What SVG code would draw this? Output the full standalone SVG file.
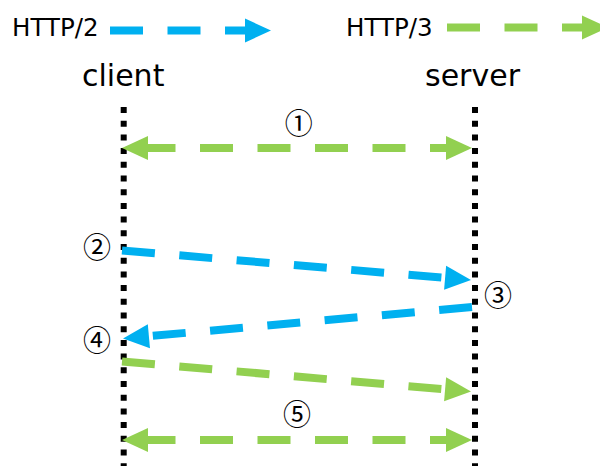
<svg xmlns="http://www.w3.org/2000/svg" width="600" height="466" viewBox="0 0 600 466">
  <style>
    .label { font-family: "DejaVu Sans", Verdana, sans-serif; fill: #000; }
    .legend { font-size: 24.5px; }
    .actor { font-size: 30px; }
    .step { font-family: "Noto Sans CJK JP", "DejaVu Sans", sans-serif; font-size: 28px; text-anchor: middle; fill: #000; }
    .lifeline { stroke: #000; stroke-width: 6; stroke-dasharray: 6 7.7; fill: none; }
    .msg { fill: none; stroke-width: 8; stroke-dasharray: 33 24.5; }
    .h2 { stroke: #00B0F0; }
    .h3 { stroke: #92D050; }
  </style>
  <defs>
    <marker id="headBlue" markerUnits="userSpaceOnUse" markerWidth="26" markerHeight="26" refX="0" refY="12" orient="auto-start-reverse" overflow="visible">
      <path d="M-1,0 L25,12 L-1,24 Z" fill="#00B0F0"/>
    </marker>
    <marker id="headGreen" markerUnits="userSpaceOnUse" markerWidth="26" markerHeight="26" refX="0" refY="12" orient="auto-start-reverse" overflow="visible">
      <path d="M-1,0 L25,12 L-1,24 Z" fill="#92D050"/>
    </marker>
  </defs>

  <!-- legend -->
  <g id="legend-http2">
    <text class="label legend" x="12" y="36">HTTP/2</text>
    <path class="msg h2" d="M110,30.5 L246,30.5" stroke-dasharray="33 24" marker-end="url(#headBlue)"/>
  </g>
  <g id="legend-http3">
    <text class="label legend" x="346" y="36">HTTP/3</text>
    <path class="msg h3" d="M447,27.5 L583,27.5" stroke-dasharray="33 24" marker-end="url(#headGreen)"/>
  </g>

  <!-- participants -->
  <g id="client">
    <text class="label actor" x="82" y="86">client</text>
    <line class="lifeline" x1="123.7" y1="107" x2="123.7" y2="466"/>
  </g>
  <g id="server">
    <text class="label actor" x="425" y="86">server</text>
    <line class="lifeline" x1="475" y1="107" x2="475" y2="466"/>
  </g>

  <!-- messages -->
  <g id="connectors">
    <path class="msg h3" d="M147,148 L447,148" stroke-dashoffset="4.5" marker-start="url(#headGreen)" marker-end="url(#headGreen)"/>
    <path class="msg h2" d="M122,250.5 L446.1,277.9" marker-end="url(#headBlue)"/>
    <path class="msg h2" d="M472,307 L147.9,336.3" marker-end="url(#headBlue)"/>
    <path class="msg h3" d="M122,361.5 L446.1,389.4" marker-end="url(#headGreen)"/>
    <path class="msg h3" d="M147,440 L447,440" stroke-dashoffset="4.5" marker-start="url(#headGreen)" marker-end="url(#headGreen)"/>
  </g>

  <!-- step numbers -->
  <g id="steps">
    <text class="step" x="298.7" y="134">①</text>
    <text class="step" x="97" y="258">②</text>
    <text class="step" x="498" y="306">③</text>
    <text class="step" x="97" y="351">④</text>
    <text class="step" x="297" y="425">⑤</text>
  </g>
</svg>
